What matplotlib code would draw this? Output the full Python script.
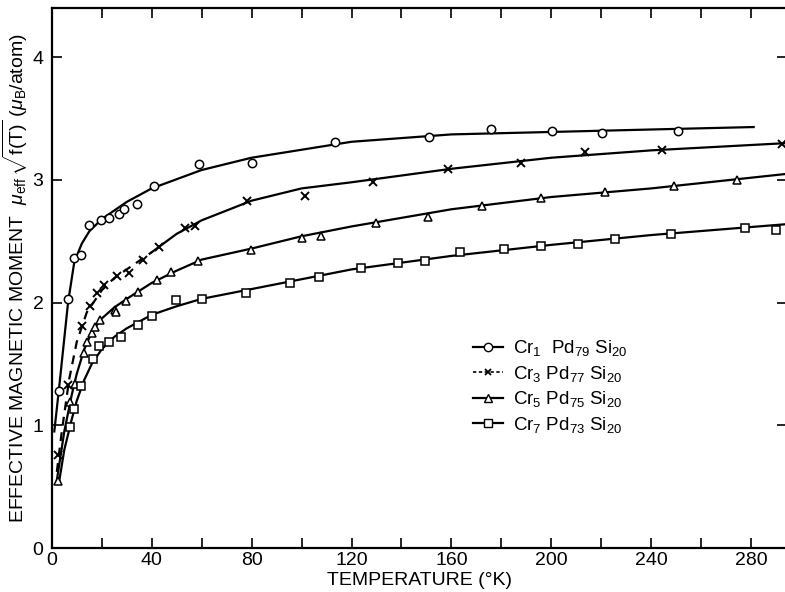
import matplotlib
matplotlib.use("Agg")
import matplotlib.pyplot as plt
from matplotlib.lines import Line2D
from matplotlib.ticker import MultipleLocator

# measured points, T in K, moment in mu_B/atom
t_cr1 = [2.7, 6.5, 8.9, 11.6, 14.9, 19.6, 22.7, 27.0, 29.0, 34.0, 40.9, 59.0,
         80.0, 113.5, 151.2, 175.9, 200.2, 220.4, 250.9]
mu_cr1 = [1.28, 2.03, 2.36, 2.39, 2.63, 2.67, 2.69, 2.72, 2.76, 2.80, 2.95, 3.13,
          3.14, 3.31, 3.35, 3.41, 3.40, 3.38, 3.40]

t_cr3 = [2.3, 6.3, 11.9, 15.2, 17.9, 21.0, 26.0, 30.8, 36.7, 42.9, 53.3, 57.4,
         78.1, 101.5, 128.7, 158.5, 187.9, 213.5, 244.3, 292.3]
mu_cr3 = [0.76, 1.33, 1.81, 1.97, 2.08, 2.14, 2.22, 2.24, 2.35, 2.45, 2.61, 2.62,
          2.83, 2.87, 2.98, 3.09, 3.14, 3.23, 3.24, 3.29]

t_cr5 = [2.3, 7.2, 9.1, 12.9, 13.9, 15.9, 17.3, 19.2, 25.2, 25.9, 29.6, 34.7,
         42.3, 47.7, 58.4, 79.7, 100.2, 107.8, 129.8, 150.8, 172.2, 195.9,
         221.5, 249.3, 274.2]
mu_cr5 = [0.55, 1.19, 1.34, 1.59, 1.68, 1.75, 1.80, 1.86, 1.94, 1.92, 2.01, 2.09,
          2.18, 2.25, 2.34, 2.43, 2.53, 2.54, 2.65, 2.70, 2.79, 2.85, 2.90, 2.95, 3.00]

t_cr7 = [7.3, 9.0, 11.5, 16.3, 19.0, 23.0, 27.6, 34.6, 40.3, 49.8, 60.1, 77.7,
         95.4, 107.1, 123.8, 138.5, 149.6, 163.6, 181.2, 195.9, 210.6, 225.3,
         248.0, 277.4, 290.0]
mu_cr7 = [0.99, 1.13, 1.32, 1.54, 1.65, 1.68, 1.72, 1.82, 1.89, 2.02, 2.03, 2.08,
          2.16, 2.21, 2.28, 2.32, 2.34, 2.41, 2.44, 2.46, 2.48, 2.52, 2.56, 2.61, 2.59]

# hand-drawn guide curves
ct_cr1 = [1, 3, 6.5, 9, 12, 15, 20, 30, 40, 60, 80, 120, 160, 200, 240, 281]
cm_cr1 = [0.95, 1.32, 2.0, 2.33, 2.48, 2.58, 2.68, 2.82, 2.93, 3.08, 3.18, 3.31,
          3.37, 3.39, 3.41, 3.43]

ct_cr3_dash = [2, 4, 7, 10, 14, 20, 25, 30, 40]
cm_cr3_dash = [0.62, 0.95, 1.38, 1.68, 1.92, 2.10, 2.20, 2.27, 2.41]
ct_cr3 = [40, 50, 60, 80, 100, 120, 160, 200, 240, 295]
cm_cr3 = [2.41, 2.56, 2.67, 2.83, 2.93, 2.98, 3.09, 3.18, 3.24, 3.30]

ct_cr5 = [2, 5, 8, 10, 13, 16, 20, 25, 30, 40, 50, 60, 80, 100, 120, 160, 200,
          240, 295]
cm_cr5 = [0.55, 0.95, 1.25, 1.42, 1.62, 1.76, 1.87, 1.96, 2.03, 2.16, 2.26, 2.35,
          2.44, 2.54, 2.62, 2.76, 2.86, 2.93, 3.05]

ct_cr7 = [3, 5, 8, 10, 13, 16, 20, 25, 30, 40, 50, 60, 80, 100, 120, 160, 200,
          240, 295]
cm_cr7 = [0.55, 0.8, 1.05, 1.2, 1.37, 1.50, 1.62, 1.72, 1.79, 1.90, 1.97, 2.03,
          2.11, 2.19, 2.27, 2.38, 2.47, 2.55, 2.64]

labels = [r'Cr$_1$  Pd$_{79}$ Si$_{20}$', r'Cr$_3$ Pd$_{77}$ Si$_{20}$',
          r'Cr$_5$ Pd$_{75}$ Si$_{20}$', r'Cr$_7$ Pd$_{73}$ Si$_{20}$']

plt.rcParams['font.family'] = ['Liberation Sans', 'DejaVu Sans']
plt.rcParams['mathtext.fontset'] = 'custom'
plt.rcParams['mathtext.rm'] = 'Liberation Sans'
plt.rcParams['mathtext.it'] = 'Liberation Sans:italic'

fig = plt.figure(figsize=(7.85, 5.92), dpi=100)
ax = fig.add_axes([0.066, 0.0743, 0.937, 0.9122])

lw = 1.6
mk = dict(mfc='white', mec='black', mew=1.1, ls='none')
ax.plot(ct_cr1, cm_cr1, color='black', lw=lw)
ax.plot(ct_cr3_dash, cm_cr3_dash, color='black', lw=lw, ls=(0, (4, 3)))
ax.plot(ct_cr3, cm_cr3, color='black', lw=lw)
ax.plot(ct_cr5, cm_cr5, color='black', lw=lw)
ax.plot(ct_cr7, cm_cr7, color='black', lw=lw)

ax.plot(t_cr1, mu_cr1, marker='o', ms=6, **mk)
ax.plot(t_cr3, mu_cr3, marker='x', ms=6, color='black', mew=1.4, ls='none')
ax.plot(t_cr5, mu_cr5, marker='^', ms=5.5, **mk)
ax.plot(t_cr7, mu_cr7, marker='s', ms=5.5, **mk)

ax.set_xlim(0, 294.5)
ax.set_ylim(0, 4.4)
ax.xaxis.set_major_locator(MultipleLocator(40))
ax.xaxis.set_minor_locator(MultipleLocator(20))
ax.yaxis.set_major_locator(MultipleLocator(1))
ax.tick_params(axis='both', which='both', direction='in', top=True, right=True,
               length=7, width=1.2, labelsize=14, pad=3)
ax.tick_params(axis='y', pad=6)
for side in ['left', 'bottom', 'top']:
    ax.spines[side].set_linewidth(1.6)
ax.spines['right'].set_visible(False)

ax.set_xlabel('TEMPERATURE (°K)', fontsize=14, labelpad=2)
ax.set_ylabel(r'EFFECTIVE MAGNETIC MOMENT  $\mu_{\rm eff}\,\sqrt{\rm f(T)}$ ($\mu_{\rm B}$/atom)',
              fontsize=14, labelpad=2)

handles = [
    Line2D([], [], color='black', lw=lw, marker='o', ms=6, mfc='white', mec='black'),
    Line2D([], [], color='black', lw=1.2, ls=(0, (2, 1.5)), marker='x', ms=5, mew=1.3),
    Line2D([], [], color='black', lw=lw, marker='^', ms=5.5, mfc='white', mec='black'),
    Line2D([], [], color='black', lw=lw, marker='s', ms=5.5, mfc='white', mec='black'),
]
ax.legend(handles, labels, loc='upper left', bbox_to_anchor=(0.55, 0.42),
          frameon=False, fontsize=13.5, handlelength=1.6, handletextpad=0.5,
          labelspacing=0.3)

fig.savefig('out.png', dpi=100)
